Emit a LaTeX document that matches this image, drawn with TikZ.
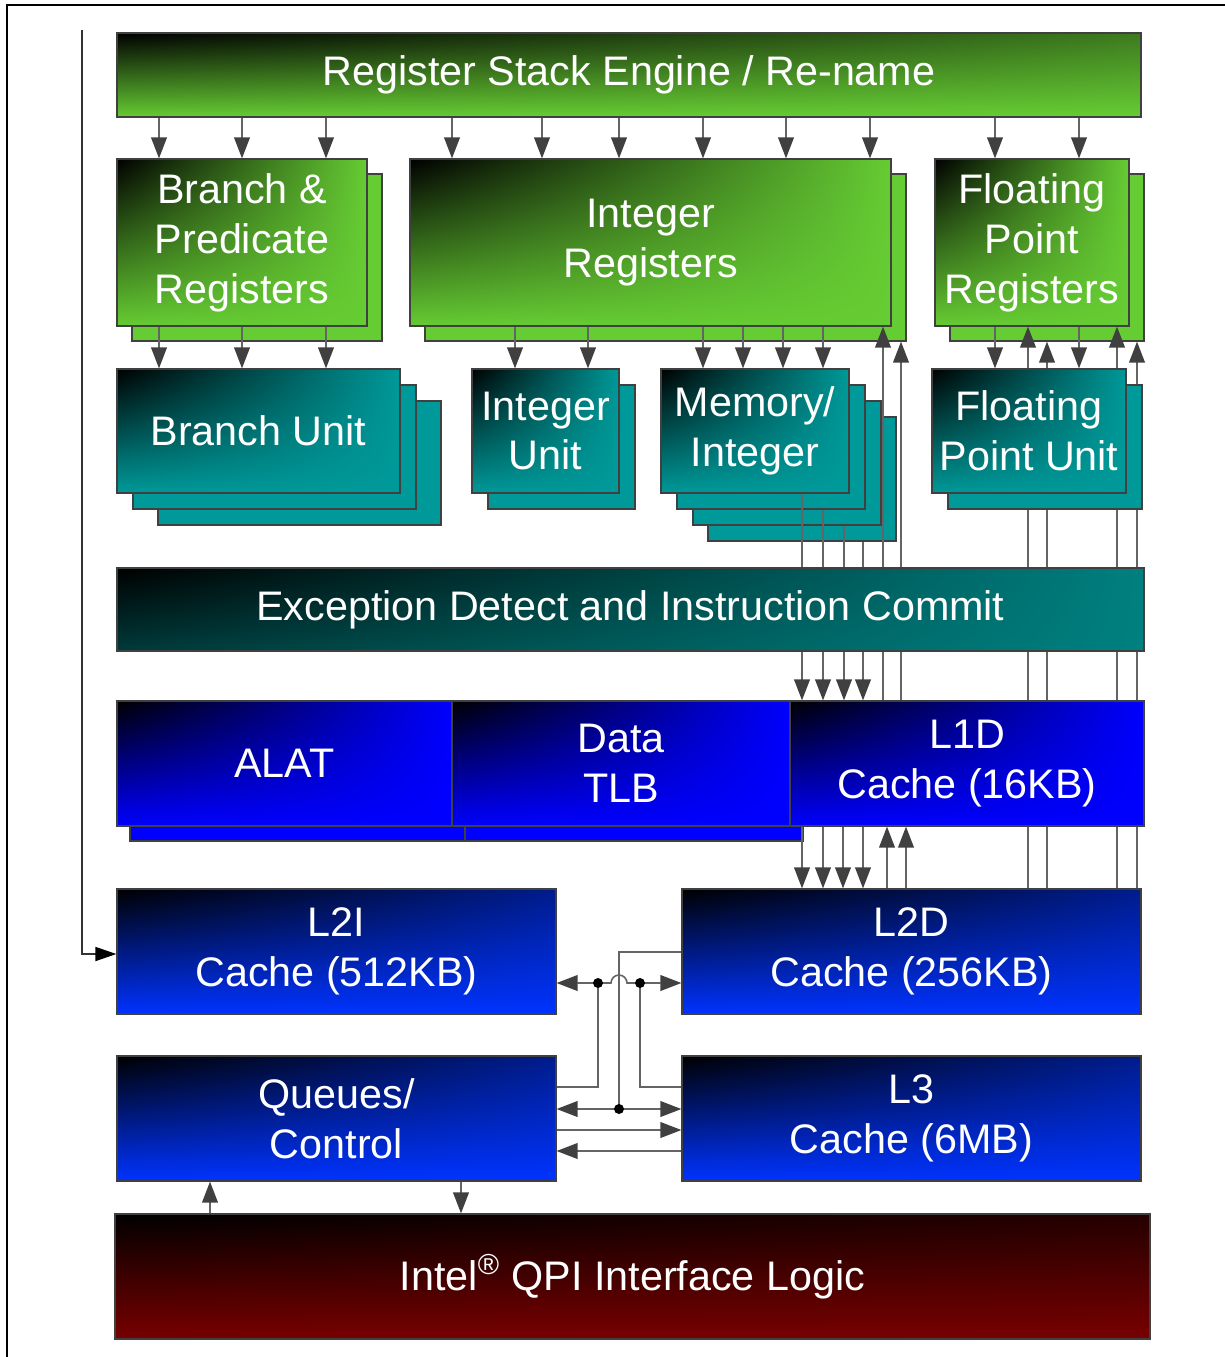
\documentclass[tikz,border=0pt]{standalone}
\usepackage{fontspec}
\setmainfont{Liberation Sans}
\usetikzlibrary{arrows.meta, shadings}
\definecolor{regcol}{RGB}{102,204,51}
\definecolor{unitcol}{RGB}{0,153,153}
\definecolor{exccol}{RGB}{0,128,128}
\definecolor{l1col}{RGB}{0,0,255}
\definecolor{l2col}{RGB}{0,51,255}
\definecolor{qpicol}{RGB}{120,0,0}
\definecolor{edgecol}{RGB}{64,64,64}
\definecolor{wirecol}{RGB}{100,100,100}
\definecolor{tipcol}{RGB}{64,64,64}

\pgfdeclarelayer{wires}
\pgfdeclarelayer{top}
\pgfsetlayers{main,wires,top}

\begin{document}
\begin{tikzpicture}[x=0.02cm, y=-0.02cm,
    block/.style={draw=edgecol, line width=0.7pt, rectangle, inner sep=0pt, text=white, align=center, font=\fontsize{23.5}{28.4}\selectfont},
    sz/.style 2 args={minimum width=#1*0.02cm, minimum height=#2*0.02cm},
    rseblk/.style={block, shade, upper left=black, upper right=regcol!60!black, lower left=regcol, lower right=regcol},
    greenblk/.style={block, shade, upper left=black, upper right=regcol, lower left=regcol, lower right=regcol},
    greenback/.style={block, fill=regcol},
    tealblk/.style={block, shade, upper left=black, upper right=unitcol, lower left=unitcol, lower right=unitcol},
    tealback/.style={block, fill=unitcol},
    excblk/.style={block, shade, upper left=black, upper right=exccol, lower left=exccol!45!black, lower right=exccol},
    l1blk/.style={block, shade, upper left=black, upper right=l1col, lower left=l1col, lower right=l1col},
    l1back/.style={block, fill=l1col},
    l2blk/.style={block, shade, upper left=black, upper right=l2col!55!black, lower left=l2col, lower right=l2col},
    qpiblk/.style={block, shade, upper left=black, upper right=qpicol!30!black, lower left=qpicol, lower right=qpicol},
    wire/.style={draw=wirecol, line width=0.9pt},
    arr/.style={wire, -{Triangle[length=12pt,width=9pt,color=tipcol]}},
    arrs/.style={wire, {Triangle[length=12pt,width=9pt,color=tipcol]}-{Triangle[length=12pt,width=9pt,color=tipcol]}},
    feedarr/.style={draw=black!80, line width=0.9pt, -{Triangle[length=12pt,width=8pt,color=black]}}
]
\useasboundingbox (0,0) rectangle (1225,1357);
\draw[line width=1.3pt] (7,1357) -- (7,5) -- (1225,5);

% register stack engine
\node[rseblk, sz={1024}{84}] (rse) at (629,75) {Register Stack Engine / Re-name};

% register files
\node[greenback, sz={250}{167}] (brreg-b) at (257,257.5) {};
\node[greenblk, sz={250}{167}] (brreg) at (242,242.5) {Branch \&\\Predicate\\Registers};
\node[greenback, sz={481}{167}] (intreg-b) at (665.5,257.5) {};
\node[greenblk, sz={481}{167}] (intreg) at (650.5,242.5) {Integer\\Registers};
\node[greenback, sz={194}{167}] (fpreg-b) at (1047,257.5) {};
\node[greenblk, sz={194}{167}] (fpreg) at (1032,242.5) {Floating\\Point\\Registers};

% execution units
\node[tealback, sz={283}{124}] (brunit-c) at (299.5,463) {};
\node[tealback, sz={283}{124}] (brunit-b) at (274.5,447) {};
\node[tealblk, sz={283}{124}] (brunit) at (258.5,431) {Branch Unit};
\node[tealback, sz={147}{124}] (intunit-b) at (561.5,447) {};
\node[tealblk, sz={147}{124}] (intunit) at (545.5,431) {Integer\\Unit};
\node[tealback, sz={188}{124}] (memint-d) at (802,479) {};
\node[tealback, sz={188}{124}] (memint-c) at (787,463) {};
\node[tealback, sz={188}{124}] (memint-b) at (771,447) {};
\node[tealblk, sz={188}{124}] (memint) at (755,431) {Memory/\\Integer};

% caches
\node[l1back, sz={335}{125}] (alat-b) at (297.5,778.5) {};
\node[l1back, sz={338}{125}] (dtlb-b) at (634,778.5) {};
\node[l1blk, sz={335}{125}] (alat) at (284.5,763.5) {ALAT};
\node[l1blk, sz={338}{125}] (dtlb) at (621,763.5) {Data\\TLB};
\node[l2blk, sz={439}{125}] (l2i) at (336.5,951.5) {L2I\\Cache (512KB)};
\node[l2blk, sz={459}{125}] (l2d) at (911.5,951.5) {L2D\\Cache (256KB)};
\node[l2blk, sz={439}{125}] (queues) at (336.5,1118.5) {Queues/\\Control};
\node[l2blk, sz={459}{125}] (l3) at (911.5,1118.5) {L3\\Cache (6MB)};
\node[qpiblk, sz={1035}{125}] (qpi) at (632.5,1276.5) {Intel\textsuperscript{®} QPI Interface Logic};

\begin{pgfonlayer}{top}
\node[tealback, sz={194}{124}] (fpunit-b) at (1045,447) {};
\node[tealblk, sz={194}{124}] (fpunit) at (1029,431) {Floating\\Point Unit};
\node[excblk, sz={1027}{83}] (exc) at (630.5,609.5) {Exception Detect and Instruction Commit};
\node[l1blk, sz={354}{125}] (l1d) at (967,763.5) {L1D\\Cache (16KB)};
\end{pgfonlayer}

% long wires behind the commit stage
\begin{pgfonlayer}{wires}
\foreach \x/\k in {802/memint, 823/memint-b, 844/memint-c, 863/memint-d}
    \draw[arr] (\k.south -| \x,0) -- (l1d.north -| \x,0);
\draw[arr] (l1d.north -| 883,0) -- (intreg.south -| 883,0);
\draw[arr] (l1d.north -| 901,0) -- (intreg-b.south -| 901,0);
\foreach \x/\k in {1028/fpreg, 1047/fpreg-b, 1117/fpreg, 1137/fpreg-b}
    \draw[arr] (l2d.north -| \x,0) -- (\k.south -| \x,0);
\end{pgfonlayer}

% short arrows
\foreach \x in {159,242,326} \draw[arr] (rse.south -| \x,0) -- (brreg.north -| \x,0);
\foreach \x in {452,542,619,703,786,870} \draw[arr] (rse.south -| \x,0) -- (intreg.north -| \x,0);
\foreach \x in {995,1079} \draw[arr] (rse.south -| \x,0) -- (fpreg.north -| \x,0);
\foreach \x in {159,242,326} \draw[arr] (brreg.south -| \x,0) -- (brunit.north -| \x,0);
\foreach \x in {515,588} \draw[arr] (intreg.south -| \x,0) -- (intunit.north -| \x,0);
\foreach \x in {703,743,783,823} \draw[arr] (intreg.south -| \x,0) -- (memint.north -| \x,0);
\foreach \x in {995,1079} \draw[arr] (fpreg.south -| \x,0) -- (fpunit.north -| \x,0);
\foreach \x in {802,823,843,863} \draw[arr] (l1d.south -| \x,0) -- (l2d.north -| \x,0);
\foreach \x in {887,906} \draw[arr] (l2d.north -| \x,0) -- (l1d.south -| \x,0);

% feed into L2I
\coordinate (feed) at (82,30);
\draw[feedarr] (feed) |- (l2i.west |- 0,954);

% L2 / L3 / queues crossbar
\coordinate (j1) at (598,983);
\coordinate (j2) at (640,983);
\coordinate (j3) at (619,1109);
\draw[arrs] (l2i.east |- j1) -- (611,983) arc[start angle=180, end angle=0, radius=0.16cm] -- (l2d.west |- j1);
\draw[wire] (queues.east |- 0,1087) -| (j1);
\draw[wire] (l3.west |- 0,1087) -| (j2);
\draw[wire] (j3) |- (l2d.west |- 0,952);
\draw[arrs] (queues.east |- j3) -- (l3.west |- j3);
\draw[arr] (queues.east |- 0,1130) -- (l3.west |- 0,1130);
\draw[arr] (l3.west |- 0,1151) -- (queues.east |- 0,1151);
\foreach \j in {j1,j2,j3} \fill (\j) circle[radius=0.1cm];

% system interface
\draw[arr] (qpi.north -| 210,0) -- (queues.south -| 210,0);
\draw[arr] (queues.south -| 461,0) -- (qpi.north -| 461,0);
\end{tikzpicture}
\end{document}
